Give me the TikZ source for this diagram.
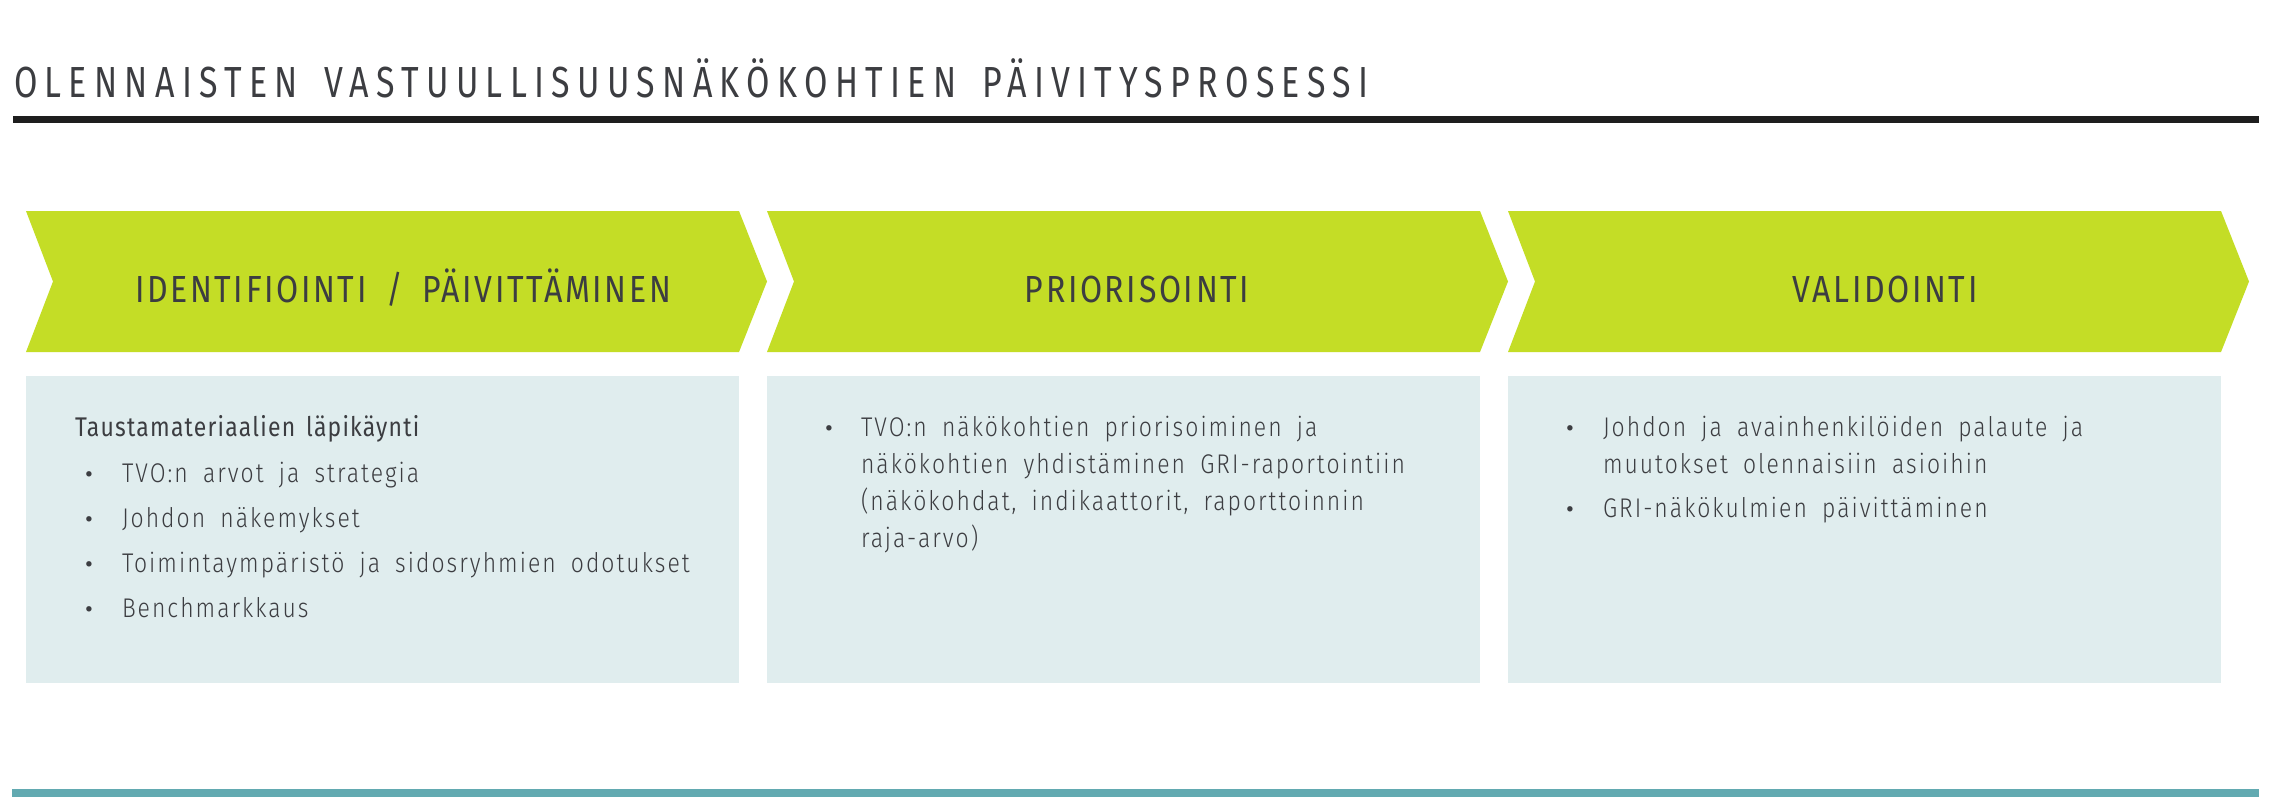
\documentclass[tikz,border=0pt]{standalone}
\usepackage{fontspec}
\IfFontExistsTF{Fira Sans Light}{\newfontfamily\bodyf{Fira Sans Light}[FakeStretch=0.85,LetterSpace=7.5,WordSpace=1.8]}{\newfontfamily\bodyf{Fira Sans}[FakeStretch=0.85,LetterSpace=7.5,WordSpace=1.8]}
\newfontfamily\titlef{Fira Sans}[FakeStretch=0.78,LetterSpace=16.8,WordSpace=1.6]
\newfontfamily\headf{Fira Sans}[FakeStretch=0.85,LetterSpace=7,WordSpace=1.75]
\newfontfamily\leadf{Fira Sans}[FakeStretch=0.85,LetterSpace=4.5,WordSpace=1.5]
\newfontfamily\bulf{Fira Sans}
\definecolor{lime}{HTML}{C4DD26}
\definecolor{pale}{HTML}{E0EDEE}
\definecolor{teal2}{HTML}{62AAB1}
\definecolor{ink}{HTML}{3C3D41}
\definecolor{rulec}{HTML}{1E1E1E}
\tikzset{
  chev/.style={fill=lime, draw=none},
  panel/.style={fill=pale, draw=none},
  txt/.style={anchor=base west, inner sep=0pt, outer sep=0pt, text=ink},
  titletxt/.style={txt, font=\titlef\fontsize{43.5}{50}\selectfont},
  headtxt/.style={anchor=base, inner sep=0pt, outer sep=0pt, text=ink, font=\headf\fontsize{37.7}{44}\selectfont},
  leadtxt/.style={txt, font=\leadf\fontsize{27}{32}\selectfont},
  bodytxt/.style={txt, font=\bodyf\fontsize{27}{32}\selectfont},
  bul/.style={txt, font=\bulf\fontsize{24}{32}\selectfont},
}
\begin{document}
\begin{tikzpicture}[x=1pt,y=-1pt]
\useasboundingbox (0,0) rectangle (2272,806);
\fill[white] (0,0) rectangle (2272,806);
% title
\node[titletxt] (title) at (14,97) {OLENNAISTEN VASTUULLISUUSNÄKÖKOHTIEN PÄIVITYSPROSESSI};
\fill[rulec] (13,116) rectangle (2259,123);
% chevrons and panels
\foreach \L/\n in {26/1,767/2,1508/3}{
  \fill[chev] (\L,211) -- (\L+713,211) -- (\L+741,281.5) -- (\L+713,352) -- (\L,352) -- (\L+27,281.5) -- cycle;
  \fill[panel] (\L,376) rectangle (\L+713,683);
}
\node[headtxt] (h1) at (403,302) {IDENTIFIOINTI / PÄIVITTÄMINEN};
\node[headtxt] (h2) at (1137,302) {PRIORISOINTI};
\node[headtxt] (h3) at (1885,302) {VALIDOINTI};
% panel 1
\node[leadtxt] (p1t) at (75,436) {Taustamateriaalien läpikäynti};
\node[bul] (b11) at (85,482) {•};
\node[bodytxt] (t11) at (122,482) {TVO:n arvot ja strategia};
\node[bul] (b12) at (85,527) {•};
\node[bodytxt] (t12) at (122,527) {Johdon näkemykset};
\node[bul] (b13) at (85,572) {•};
\node[bodytxt] (t13) at (122,572) {Toimintaympäristö ja sidosryhmien odotukset};
\node[bul] (b14) at (85,617) {•};
\node[bodytxt] (t14) at (122,617) {Benchmarkkaus};
% panel 2
\node[bul] (b21) at (825,436) {•};
\node[bodytxt] (t21) at (861,436) {TVO:n näkökohtien priorisoiminen ja};
\node[bodytxt] (t22) at (861,473) {näkökohtien yhdistäminen GRI-raportointiin};
\node[bodytxt] (t23) at (861,510) {(näkökohdat, indikaattorit, raporttoinnin};
\node[bodytxt] (t24) at (861,547) {raja-arvo)};
% panel 3
\node[bul] (b31) at (1566,436) {•};
\node[bodytxt] (t31) at (1603,436) {Johdon ja avainhenkilöiden palaute ja};
\node[bodytxt] (t32) at (1603,473) {muutokset olennaisiin asioihin};
\node[bul] (b33) at (1566,517) {•};
\node[bodytxt] (t33) at (1603,517) {GRI-näkökulmien päivittäminen};
% bottom line
\fill[teal2] (12,789) rectangle (2259,797);
\end{tikzpicture}
\end{document}
